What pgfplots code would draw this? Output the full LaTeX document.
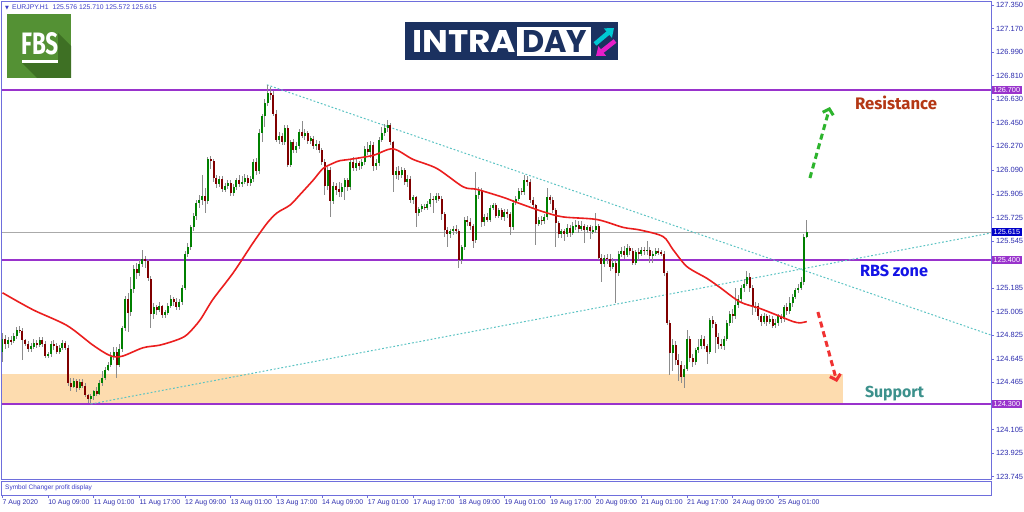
\documentclass[border=0pt]{standalone}
\usepackage{pgfplots}
\pgfplotsset{compat=1.18}
\usepackage{pgfplotstable}
\usepackage{fontspec}
\usetikzlibrary{arrows.meta}
\setmainfont{Liberation Sans}
\newfontfamily\firafont{Fira Sans}
\newfontfamily\popfont{Poppins}
\newfontfamily\dvfont{DejaVu Sans}
\definecolor{framecol}{RGB}{110,110,220}
\definecolor{labcol}{RGB}{45,45,175}
\definecolor{hdrcol}{RGB}{60,60,200}
\definecolor{purplecol}{RGB}{153,51,204}
\definecolor{pricebox}{RGB}{0,0,200}
\definecolor{curline}{RGB}{170,170,170}
\definecolor{trendcol}{RGB}{90,195,195}
\definecolor{macol}{RGB}{235,30,30}
\definecolor{bullcol}{RGB}{0,128,0}
\definecolor{bearcol}{RGB}{128,0,0}
\definecolor{wickcol}{RGB}{140,140,140}
\definecolor{supfill}{RGB}{253,220,175}
\definecolor{rescol}{RGB}{180,55,20}
\definecolor{rbscol}{RGB}{20,20,230}
\definecolor{supcol}{RGB}{60,145,140}
\definecolor{arrgreen}{RGB}{45,180,45}
\definecolor{arrred}{RGB}{240,50,50}
\definecolor{fbsgreen}{RGB}{84,145,52}
\definecolor{fbsdark}{RGB}{62,112,36}
\definecolor{navy}{RGB}{27,49,96}
\definecolor{cyanc}{RGB}{0,200,210}
\definecolor{magc}{RGB}{230,30,200}

\pgfplotstableread{
i o h l c
0 124.70 124.84 124.62 124.80
1 124.80 124.83 124.72 124.76
2 124.76 124.81 124.73 124.79
3 124.79 124.82 124.75 124.78
4 124.78 124.84 124.77 124.82
5 124.82 124.89 124.80 124.87
6 124.87 124.90 124.84 124.86
7 124.86 124.88 124.64 124.79
8 124.79 124.80 124.74 124.76
9 124.76 124.78 124.70 124.72
10 124.72 124.77 124.70 124.74
11 124.74 124.80 124.72 124.77
12 124.77 124.79 124.73 124.75
13 124.75 124.81 124.74 124.79
14 124.79 124.81 124.74 124.76
15 124.76 124.78 124.65 124.67
16 124.67 124.70 124.65 124.68
17 124.68 124.78 124.66 124.76
18 124.76 124.79 124.71 124.74
19 124.74 124.77 124.68 124.70
20 124.70 124.75 124.68 124.73
21 124.73 124.79 124.71 124.77
22 124.77 124.78 124.71 124.73
23 124.73 124.75 124.44 124.46
24 124.46 124.50 124.40 124.43
25 124.43 124.50 124.42 124.48
26 124.48 124.49 124.39 124.42
27 124.42 124.49 124.41 124.47
28 124.47 124.49 124.42 124.44
29 124.44 124.46 124.35 124.37
30 124.37 124.38 124.31 124.34
31 124.34 124.38 124.30 124.36
32 124.36 124.41 124.33 124.40
33 124.40 124.43 124.36 124.38
34 124.38 124.48 124.37 124.46
35 124.46 124.55 124.44 124.50
36 124.50 124.58 124.48 124.56
37 124.56 124.62 124.55 124.60
38 124.60 124.70 124.58 124.66
39 124.66 124.74 124.64 124.70
40 124.70 124.74 124.50 124.60
41 124.60 124.76 124.58 124.72
42 124.72 124.90 124.70 124.88
43 124.88 125.13 124.86 125.10
44 125.10 125.15 124.85 125.00
45 125.00 125.27 124.97 125.18
46 125.18 125.36 125.15 125.33
47 125.33 125.38 125.26 125.30
48 125.30 125.40 125.28 125.37
49 125.37 125.48 125.35 125.41
50 125.41 125.43 125.34 125.39
51 125.39 125.41 125.24 125.26
52 125.26 125.28 124.88 124.99
53 124.99 125.07 124.95 125.04
54 125.04 125.06 124.98 125.02
55 125.02 125.08 125.00 125.05
56 125.05 125.06 124.96 124.98
57 124.98 125.02 124.96 125.00
58 125.00 125.07 124.98 125.05
59 125.05 125.13 125.03 125.10
60 125.10 125.12 125.05 125.08
61 125.08 125.11 125.02 125.04
62 125.04 125.10 125.02 125.08
63 125.08 125.21 125.06 125.19
64 125.19 125.47 125.17 125.45
65 125.45 125.53 125.42 125.50
66 125.50 125.67 125.48 125.65
67 125.65 125.76 125.62 125.74
68 125.74 125.86 125.71 125.84
69 125.84 125.90 125.80 125.86
70 125.86 126.05 125.82 125.89
71 125.89 125.95 125.76 125.85
72 125.85 126.19 125.83 126.17
73 126.17 126.20 126.10 126.16
74 126.16 126.17 126.00 126.03
75 126.03 126.05 125.95 125.98
76 125.98 126.04 125.96 126.02
77 126.02 126.04 125.92 125.94
78 125.94 125.99 125.92 125.97
79 125.97 126.01 125.94 125.99
80 125.99 126.01 125.89 125.91
81 125.91 125.98 125.89 125.96
82 125.96 126.03 125.94 126.01
83 126.01 126.05 125.96 125.98
84 125.98 126.04 125.96 126.00
85 126.00 126.06 125.98 126.03
86 126.03 126.05 125.97 125.99
87 125.99 126.04 125.97 126.02
88 126.02 126.17 126.00 126.15
89 126.15 126.18 126.05 126.08
90 126.08 126.40 126.06 126.37
91 126.37 126.52 126.30 126.50
92 126.50 126.63 126.42 126.60
93 126.60 126.74 126.58 126.68
94 126.68 126.72 126.62 126.66
95 126.66 126.69 126.50 126.52
96 126.52 126.55 126.30 126.32
97 126.32 126.38 126.29 126.35
98 126.35 126.37 126.28 126.30
99 126.30 126.43 126.28 126.41
100 126.41 126.43 126.11 126.13
101 126.13 126.32 126.11 126.30
102 126.30 126.33 126.22 126.24
103 126.24 126.30 126.22 126.27
104 126.27 126.40 126.25 126.38
105 126.38 126.46 126.33 126.35
106 126.35 126.40 126.32 126.37
107 126.37 126.39 126.29 126.31
108 126.31 126.35 126.29 126.33
109 126.33 126.35 126.25 126.27
110 126.27 126.32 126.24 126.29
111 126.29 126.31 126.22 126.24
112 126.24 126.26 126.13 126.15
113 126.15 126.17 125.90 125.97
114 125.97 126.11 125.94 126.09
115 126.09 126.11 125.73 125.85
116 125.85 126.00 125.83 125.97
117 125.97 125.99 125.90 125.94
118 125.94 126.00 125.88 125.92
119 125.92 125.99 125.88 125.96
120 125.96 126.03 125.86 126.01
121 126.01 126.03 125.93 125.96
122 125.96 126.17 125.94 126.15
123 126.15 126.19 126.08 126.10
124 126.10 126.17 126.08 126.14
125 126.14 126.16 126.09 126.12
126 126.12 126.17 126.10 126.15
127 126.15 126.27 126.13 126.25
128 126.25 126.30 126.20 126.23
129 126.23 126.31 126.18 126.28
130 126.28 126.30 126.08 126.12
131 126.12 126.17 126.09 126.14
132 126.14 126.34 126.12 126.32
133 126.32 126.42 126.30 126.37
134 126.37 126.44 126.35 126.41
135 126.41 126.47 126.38 126.43
136 126.43 126.45 126.28 126.30
137 126.30 126.31 125.92 126.05
138 126.05 126.11 126.02 126.08
139 126.08 126.12 126.01 126.05
140 126.05 126.11 126.03 126.09
141 126.09 126.10 125.97 126.00
142 126.00 126.05 125.96 126.02
143 126.02 126.04 125.84 125.86
144 125.86 125.90 125.83 125.88
145 125.88 125.89 125.65 125.76
146 125.76 125.81 125.74 125.79
147 125.79 125.83 125.77 125.81
148 125.81 125.83 125.78 125.80
149 125.80 125.85 125.78 125.83
150 125.83 125.91 125.81 125.87
151 125.87 125.89 125.76 125.86
152 125.86 125.91 125.84 125.89
153 125.89 125.91 125.85 125.87
154 125.87 125.89 125.71 125.75
155 125.75 125.77 125.58 125.63
156 125.63 125.65 125.50 125.60
157 125.60 125.64 125.57 125.62
158 125.62 125.66 125.59 125.64
159 125.64 125.67 125.60 125.62
160 125.62 125.64 125.34 125.40
161 125.40 125.52 125.37 125.50
162 125.50 125.73 125.48 125.71
163 125.71 125.74 125.66 125.69
164 125.69 125.72 125.63 125.66
165 125.66 125.68 125.49 125.55
166 125.55 126.07 125.53 125.90
167 125.90 125.96 125.87 125.93
168 125.93 125.95 125.65 125.69
169 125.69 125.75 125.66 125.73
170 125.73 125.76 125.69 125.71
171 125.71 125.82 125.69 125.80
172 125.80 125.84 125.78 125.82
173 125.82 125.84 125.72 125.74
174 125.74 125.80 125.72 125.78
175 125.78 125.80 125.71 125.73
176 125.73 125.79 125.70 125.77
177 125.77 125.79 125.72 125.75
178 125.75 125.77 125.59 125.65
179 125.65 125.86 125.63 125.84
180 125.84 125.89 125.82 125.87
181 125.87 125.95 125.85 125.93
182 125.93 125.95 125.90 125.92
183 125.92 126.05 125.90 126.01
184 126.01 126.04 125.97 126.00
185 126.00 126.02 125.84 125.86
186 125.86 125.88 125.80 125.82
187 125.82 125.83 125.52 125.68
188 125.68 125.73 125.66 125.71
189 125.71 125.74 125.67 125.70
190 125.70 125.75 125.68 125.73
191 125.73 125.95 125.71 125.88
192 125.88 125.90 125.83 125.86
193 125.86 125.88 125.76 125.78
194 125.78 125.80 125.50 125.68
195 125.68 125.70 125.57 125.60
196 125.60 125.64 125.57 125.62
197 125.62 125.64 125.55 125.60
198 125.60 125.68 125.58 125.65
199 125.65 125.67 125.58 125.61
200 125.61 125.69 125.59 125.66
201 125.66 125.71 125.63 125.67
202 125.67 125.70 125.61 125.64
203 125.64 125.70 125.62 125.66
204 125.66 125.68 125.53 125.63
205 125.63 125.67 125.61 125.65
206 125.65 125.67 125.56 125.62
207 125.62 125.66 125.60 125.63
208 125.63 125.76 125.61 125.66
209 125.66 125.68 125.40 125.42
210 125.42 125.45 125.23 125.37
211 125.37 125.44 125.35 125.42
212 125.42 125.45 125.37 125.41
213 125.41 125.45 125.32 125.35
214 125.35 125.42 125.33 125.38
215 125.38 125.40 125.07 125.30
216 125.30 125.47 125.28 125.45
217 125.45 125.50 125.42 125.47
218 125.47 125.51 125.41 125.44
219 125.44 125.52 125.42 125.49
220 125.49 125.51 125.44 125.47
221 125.47 125.49 125.36 125.38
222 125.38 125.48 125.36 125.46
223 125.46 125.49 125.40 125.45
224 125.45 125.50 125.43 125.48
225 125.48 125.50 125.44 125.47
226 125.47 125.55 125.44 125.48
227 125.48 125.50 125.38 125.43
228 125.43 125.47 125.38 125.45
229 125.45 125.49 125.43 125.47
230 125.47 125.49 125.44 125.46
231 125.46 125.48 125.43 125.45
232 125.45 125.47 125.28 125.30
233 125.30 125.32 124.90 124.92
234 124.92 124.94 124.52 124.69
235 124.69 124.80 124.55 124.75
236 124.75 124.78 124.60 124.64
237 124.64 124.68 124.48 124.60
238 124.60 124.63 124.46 124.51
239 124.51 124.60 124.42 124.57
240 124.57 124.87 124.55 124.80
241 124.80 124.82 124.62 124.65
242 124.65 124.68 124.58 124.62
243 124.62 124.73 124.60 124.71
244 124.71 124.80 124.69 124.74
245 124.74 124.83 124.72 124.80
246 124.80 124.82 124.72 124.74
247 124.74 124.76 124.61 124.70
248 124.70 124.96 124.68 124.94
249 124.94 124.97 124.88 124.91
250 124.91 124.93 124.69 124.81
251 124.81 124.84 124.72 124.76
252 124.76 124.80 124.72 124.74
253 124.74 124.82 124.71 124.80
254 124.80 124.94 124.78 124.92
255 124.92 125.01 124.90 124.99
256 124.99 125.03 124.92 124.97
257 124.97 125.19 124.95 125.06
258 125.06 125.13 125.03 125.10
259 125.10 125.21 125.08 125.19
260 125.19 125.26 125.16 125.22
261 125.22 125.32 125.20 125.27
262 125.27 125.30 125.16 125.19
263 125.19 125.21 124.98 125.04
264 125.04 125.08 125.00 125.05
265 125.05 125.07 124.94 124.97
266 124.97 124.99 124.90 124.93
267 124.93 125.00 124.91 124.97
268 124.97 124.99 124.90 124.93
269 124.93 124.98 124.91 124.95
270 124.95 124.97 124.88 124.90
271 124.90 124.95 124.88 124.92
272 124.92 124.99 124.90 124.97
273 124.97 124.99 124.92 124.95
274 124.95 125.06 124.93 125.04
275 125.04 125.07 124.98 125.01
276 125.01 125.12 124.99 125.07
277 125.07 125.14 125.04 125.12
278 125.12 125.19 125.10 125.17
279 125.17 125.22 125.15 125.19
280 125.19 125.27 125.17 125.23
281 125.23 125.60 125.21 125.576
282 125.576 125.710 125.572 125.615
}\candles

\begin{document}
\begin{tikzpicture}
\path[fill=white] (0pt,0pt) rectangle (1024pt,511pt);
% main price window
\begin{axis}[
  at={(2pt,32pt)}, anchor=south west, scale only axis,
  width=989pt, height=477pt,
  xmin=-0.175, xmax=346.6, ymin=123.7267, ymax=127.3726,
  xtick=\empty,
  ytick={127.35,127.17,126.99,126.81,126.63,126.45,126.27,126.09,125.905,125.725,125.545,125.185,125.005,124.825,124.645,124.465,124.105,123.925,123.745},
  yticklabels={127.350,127.170,126.990,126.810,126.630,126.450,126.270,126.090,125.905,125.725,125.545,125.185,125.005,124.825,124.645,124.465,124.105,123.925,123.745},
  ytick pos=right, yticklabel pos=right,
  tick align=outside, major tick length=3pt,
  tick style={draw=framecol, line width=0.6pt},
  yticklabel style={font=\fontsize{7.5}{8}\selectfont, text=labcol, anchor=west, xshift=-1.5pt},
  axis line style={draw=framecol, line width=1pt},
  clip mode=individual,
]
% support zone
\addplot[fill=supfill, draw=none, forget plot] coordinates {(-0.175,124.30) (294.7,124.30) (294.7,124.53) (-0.175,124.53)} -- cycle;
% current price line
\addplot[curline, line width=0.8pt, forget plot] coordinates {(-0.175,125.615) (346.6,125.615)};
% horizontal levels
\addplot[purplecol, line width=1.6pt, forget plot] coordinates {(-0.175,126.70) (346.6,126.70)};
\addplot[purplecol, line width=1.6pt, forget plot] coordinates {(-0.175,125.40) (346.6,125.40)};
\addplot[purplecol, line width=1.6pt, forget plot] coordinates {(-0.175,124.30) (346.6,124.30)};
% trend lines
\addplot[trendcol, line width=1pt, dash pattern=on 1.8pt off 2pt, forget plot] coordinates {(92.7,126.74) (346.6,124.827)};
\addplot[trendcol, line width=1pt, dash pattern=on 1.8pt off 2pt, forget plot] coordinates {(31.0,124.30) (346.6,125.607)};
% wicks
\addplot[draw=none, mark=none, forget plot,
  error bars/.cd, y dir=both, y explicit, error mark=none,
  error bar style={draw=wickcol, solid, line width=0.9pt}]
  table[x=i, y expr={(\thisrow{h}+\thisrow{l})/2}, y error expr={(\thisrow{h}-\thisrow{l})/2}] {\candles};
% bull bodies
\addplot[draw=none, mark=none, forget plot,
  error bars/.cd, y dir=both, y explicit, error mark=none,
  error bar style={draw=bullcol, solid, line width=2pt}]
  table[x=i, y expr={(\thisrow{o}+\thisrow{c})/2}, y error expr={max(\thisrow{c}-\thisrow{o},0)/2}] {\candles};
% bear bodies
\addplot[draw=none, mark=none, forget plot,
  error bars/.cd, y dir=both, y explicit, error mark=none,
  error bar style={draw=bearcol, solid, line width=2pt}]
  table[x=i, y expr={(\thisrow{o}+\thisrow{c})/2}, y error expr={max(\thisrow{o}-\thisrow{c},0)/2}] {\candles};
% moving average
\addplot[macol, line width=1.6pt, smooth, forget plot] coordinates {
(0,125.15) (10.7,125.02) (22.6,124.90) (31.7,124.75) (37.7,124.67) (41.9,124.665)
(49.3,124.73) (55.2,124.75) (61.2,124.79) (64.7,124.83) (69.2,124.94) (73.8,125.10)
(80.8,125.30) (87.8,125.53) (92.7,125.68) (96.2,125.76) (100.8,125.82) (104.3,125.90)
(108.9,126.01) (112.4,126.10) (115.9,126.14) (118.3,126.16) (121.8,126.17) (129.9,126.20)
(136.9,126.25) (143.9,126.17) (152.3,126.10) (161.5,125.96) (166.4,125.94) (175.5,125.88)
(180.4,125.84) (189.5,125.77) (196.5,125.73) (208.4,125.71) (217.6,125.65) (223.5,125.63)
(231.6,125.58) (235.1,125.48) (240,125.35) (247,125.26) (251.6,125.19) (258.6,125.08)
(265.6,125.03) (272.6,124.97) (277.2,124.93) (279.6,124.92) (282,124.93)};
% arrows
\draw[arrgreen, line width=3pt, dash pattern=on 6pt off 4pt, -{Straight Barb[length=5pt,width=11pt]}] (axis cs:283.1,126.027) -- (axis cs:290.1,126.57);
\draw[arrred, line width=3pt, dash pattern=on 6pt off 4pt, -{Straight Barb[length=5pt,width=11pt]}] (axis cs:285.9,125.003) -- (axis cs:292.6,124.468);
% price boxes on the right scale
\node[fill=purplecol, text=white, anchor=west, inner xsep=1.5pt, inner ysep=1.4pt, font=\fontsize{7.3}{7}\selectfont, xshift=1pt] at (axis cs:346.6,126.70) {126.700};
\node[fill=pricebox, text=white, anchor=west, inner xsep=1.5pt, inner ysep=1.4pt, font=\fontsize{7.3}{7}\selectfont, xshift=1pt] at (axis cs:346.6,125.615) {125.615};
\node[fill=purplecol, text=white, anchor=west, inner xsep=1.5pt, inner ysep=1.4pt, font=\fontsize{7.3}{7}\selectfont, xshift=1pt] at (axis cs:346.6,125.40) {125.400};
\node[fill=purplecol, text=white, anchor=west, inner xsep=1.5pt, inner ysep=1.4pt, font=\fontsize{7.3}{7}\selectfont, xshift=1pt] at (axis cs:346.6,124.30) {124.300};
\end{axis}
% indicator sub-window with the time scale
\begin{axis}[
  at={(2pt,16pt)}, anchor=south west, scale only axis,
  width=989pt, height=14pt,
  xmin=-0.175, xmax=346.6, ymin=0, ymax=1,
  ytick=\empty,
  xtick={0,16,...,272},
  xticklabels={7 Aug 2020,10 Aug 09:00,11 Aug 01:00,11 Aug 17:00,12 Aug 09:00,13 Aug 01:00,13 Aug 17:00,14 Aug 09:00,17 Aug 01:00,17 Aug 17:00,18 Aug 09:00,19 Aug 01:00,19 Aug 17:00,20 Aug 09:00,21 Aug 01:00,21 Aug 17:00,24 Aug 09:00,25 Aug 01:00},
  xtick pos=bottom, tick align=outside, major tick length=3pt,
  tick style={draw=framecol, line width=0.6pt},
  xticklabel style={anchor=north west, font=\fontsize{6.9}{7}\selectfont, text=labcol, inner xsep=0pt, inner ysep=1.5pt},
  axis line style={draw=framecol, line width=1pt},
]
\end{axis}
% overlay in pixel coordinates
\begin{scope}[x=1pt,y=-1pt,shift={(0pt,511pt)}]
\node[anchor=west, text=hdrcol, inner sep=0pt, font=\fontsize{6.8}{7}\selectfont] at (5,7.5) {{\dvfont\fontsize{5}{5}\selectfont ▼}\hspace{3pt}EURJPY.H1\hspace{4pt}125.576 125.710 125.572 125.615};
\node[anchor=west, text=hdrcol, inner sep=0pt, font=\fontsize{6.5}{7}\selectfont] at (5,488) {Symbol Changer profit display};
% FBS logo
\fill[fbsgreen] (7,14) rectangle (71,78);
\fill[fbsdark] (22,63) -- (58,63) -- (58,33) -- (71,46) -- (71,78) -- (37,78) -- cycle;
\node[anchor=south west, inner sep=0pt, text=white] at (21,55) {\resizebox{37pt}{22pt}{\firafont\bfseries FBS}};
\fill[white] (22,60) rectangle (58,63);
% INTRADAY logo
\fill[navy] (405,22) rectangle (618,60);
\node[anchor=south west, inner sep=0pt, text=white] at (412,53) {\resizebox{104pt}{22pt}{\popfont\bfseries INTRA}};
\fill[white] (517,27) rectangle (591,56);
\node[anchor=south west, inner sep=0pt, text=navy] at (522,53) {\resizebox{65pt}{22pt}{\popfont\bfseries DAY}};
\draw[cyanc, line width=4.5pt, -{Triangle[length=8pt,width=12pt]}] (595,44) -- (614,28);
\draw[magc, line width=4.5pt, -{Triangle[length=8pt,width=12pt]}] (615,41) -- (596,56);
% annotations
\node[anchor=base, inner sep=0pt, text=rescol] at (896,110) {\resizebox{82pt}{!}{\firafont\bfseries Resistance}};
\node[anchor=base, inner sep=0pt, text=rbscol] at (894,277) {\resizebox{68pt}{!}{\firafont\bfseries RBS zone}};
\node[anchor=base, inner sep=0pt, text=supcol] at (894.5,398) {\resizebox{59pt}{!}{\firafont\bfseries Support}};
\end{scope}
\pgfresetboundingbox
\path[use as bounding box] (0pt,0pt) rectangle (1024pt,511pt);
\end{tikzpicture}
\end{document}
